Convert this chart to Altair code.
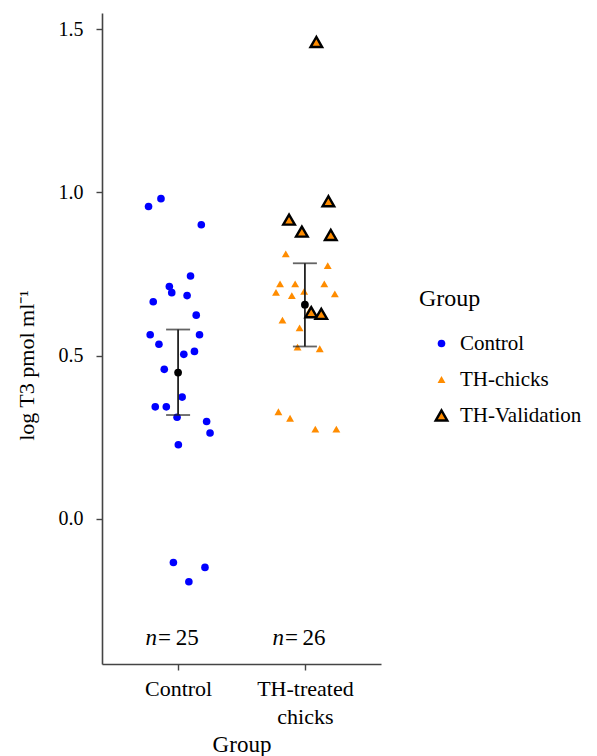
import altair as alt
import pandas as pd

# ---- data ----
control_y = [0.981, 0.957, 0.901, 0.744, 0.712, 0.693, 0.684, 0.665, 0.624, 0.564,
             0.564, 0.535, 0.513, 0.504, 0.458, 0.373, 0.343, 0.343, 0.311, 0.298,
             0.263, 0.227, -0.134, -0.149, -0.193]
control_jit = [-0.135, -0.233, 0.183, 0.098, -0.069, -0.050, 0.071, -0.196, 0.143, -0.220,
               0.169, -0.151, 0.129, 0.045, -0.109, 0.032, -0.180, -0.093, -0.008, 0.225,
               0.252, 0.002, -0.037, 0.212, 0.085]

chicks_y = [0.812, 0.776, 0.720, 0.720, 0.720, 0.694, 0.697, 0.684, 0.689, 0.640,
            0.625, 0.609, 0.585, 0.526, 0.521, 0.328, 0.308, 0.275, 0.275]
chicks_jit = [-0.151, 0.180, -0.196, -0.077, 0.153, -0.228, -0.006, -0.103, 0.236, 0.040,
              0.111, -0.177, -0.042, -0.058, 0.117, -0.209, -0.117, 0.082, 0.248]

valid_y = [1.461, 0.973, 0.917, 0.880, 0.870, 0.633, 0.628]
valid_jit = [0.090, 0.185, -0.125, -0.024, 0.204, 0.050, 0.129]

groups = ["Control", "TH-treated chicks"]
group_pos = [1, 2]
group_mean = [0.448, 0.656]
err_lo = [0.318, 0.528]
err_hi = [0.580, 0.783]
n_counts = ["25", "26"]
n_y = [-0.365, -0.365]

series = ["Control", "TH-chicks", "TH-Validation"]

# ---- tables ----
rows = []
for y, j in zip(control_y, control_jit):
    rows.append({"x": group_pos[0] + j, "y": y, "Series": series[0]})
for y, j in zip(chicks_y, chicks_jit):
    rows.append({"x": group_pos[1] + j, "y": y, "Series": series[1]})
pts = pd.DataFrame(rows)
val = pd.DataFrame({"x": [group_pos[1] + j for j in valid_jit], "y": valid_y,
                    "Series": series[2]})
summ = pd.DataFrame({"x": group_pos, "mean": group_mean, "lo": err_lo, "hi": err_hi,
                     "n": n_counts, "ny": n_y})

FONT = "Liberation Serif"

x_enc = alt.X("x:Q", scale=alt.Scale(domain=[0.4, 2.6], nice=False, zero=False),
              axis=alt.Axis(values=group_pos, title="Group",
                            labelExpr="datum.value == 1 ? 'Control' : ['TH-treated', 'chicks']",
                            grid=False, tickSize=6, labelPadding=8, titlePadding=6,
                            labelFontSize=22, titleFontSize=23, labelLineHeight=28,
                            titleFontWeight="normal"))
y_enc = alt.Y("y:Q", scale=alt.Scale(domain=[-0.445, 1.55], nice=False, zero=False),
              axis=alt.Axis(values=[0, 0.5, 1.0, 1.5], format=".1f",
                            title="log T3 pmol ml\u207b\u00b9", grid=False, tickSize=6,
                            labelPadding=13, titleX=-64, titleY=352, labelFontSize=20,
                            titleFontSize=22, titleFontWeight="normal"))

leg = alt.Legend(title="Group", orient="none", legendX=317, legendY=274,
                 titleFontSize=24, titleFontWeight="normal", labelFontSize=21,
                 symbolOffset=12, labelOffset=8, rowPadding=14, titlePadding=22)

fill_s = alt.Scale(domain=series, range=["#0000ff", "#ff8c00", "#ff8c00"])
stroke_s = alt.Scale(domain=series, range=["#0000ff", "#ff8c00", "#000000"])
sw_s = alt.Scale(type="ordinal", domain=series, range=[0, 0, 2.4])
shape_s = alt.Scale(domain=series, range=["circle", "triangle-up", "triangle-up"])
size_s = alt.Scale(type="ordinal", domain=series, range=[58, 62, 135])

points = alt.Chart(pts).mark_point(filled=True, opacity=1).encode(
    x=x_enc, y=y_enc,
    fill=alt.Fill("Series:N", scale=fill_s, legend=leg),
    stroke=alt.Stroke("Series:N", scale=stroke_s, legend=leg),
    strokeWidth=alt.StrokeWidth("Series:N", scale=sw_s, legend=leg),
    shape=alt.Shape("Series:N", scale=shape_s, legend=leg),
    size=alt.Size("Series:N", scale=size_s, legend=leg),
)

bars = alt.Chart(summ).mark_rule(color="#222222", strokeWidth=1.8).encode(
    x="x:Q", y="lo:Q", y2="hi:Q")
cap_lo = alt.Chart(summ).mark_tick(orient="horizontal", color="#222222", thickness=1.8,
                                   size=24).encode(x="x:Q", y="lo:Q")
cap_hi = alt.Chart(summ).mark_tick(orient="horizontal", color="#222222", thickness=1.8,
                                   size=24).encode(x="x:Q", y="hi:Q")
means = alt.Chart(summ).mark_point(filled=True, color="black", size=60, opacity=1,
                                   shape="circle").encode(x="x:Q", y="mean:Q")

valid = alt.Chart(val).mark_point(filled=True, opacity=1, stroke="black", strokeWidth=2.4,
                                  size=135, shape="triangle-up").encode(
    x="x:Q", y="y:Q",
    fill=alt.Fill("Series:N", scale=fill_s, legend=leg),
)

n_italic = alt.Chart(summ).mark_text(text="n", font=FONT, fontSize=23, fontStyle="italic",
                                     align="right", dx=-21, color="black").encode(
    x="x:Q", y="ny:Q")
n_rest = alt.Chart(summ).mark_text(font=FONT, fontSize=23, align="left", dx=-20,
                                   color="black").encode(
    x="x:Q", y="ny:Q", text=alt.Text("label:N")).transform_calculate(
    label="'\u2009=\u2009' + datum.n")

chart = alt.layer(points, bars, cap_lo, cap_hi, means, valid, n_italic, n_rest).properties(
    width=279, height=651, background="white",
    padding={"left": 7, "top": 5, "right": 0, "bottom": 0},
).configure_view(stroke=None).configure_axis(
    labelFont=FONT, titleFont=FONT, labelColor="black", titleColor="black",
    domainColor="#444444", tickColor="#444444", domainWidth=1.6, tickWidth=1.4,
).configure_legend(labelFont=FONT, titleFont=FONT, labelColor="black",
                   titleColor="black")

chart.save("out.html", embed_options={"renderer": "svg", "actions": False})
